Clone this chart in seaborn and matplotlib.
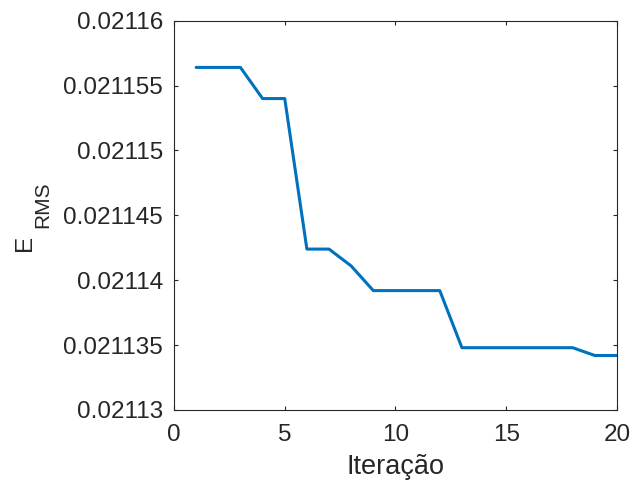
import matplotlib
matplotlib.use("Agg")
import matplotlib.pyplot as plt
import seaborn as sns
import pandas as pd

iterations = [1, 2, 3, 4, 5, 6, 7, 8, 9, 10, 11, 12, 13, 14, 15, 16, 17, 18, 19, 20]
erms = [0.0211564, 0.0211564, 0.0211564, 0.0211540, 0.0211540,
        0.0211424, 0.0211424, 0.0211411, 0.0211392, 0.0211392,
        0.0211392, 0.0211392, 0.0211348, 0.0211348, 0.0211348,
        0.0211348, 0.0211348, 0.0211348, 0.0211342, 0.0211342]
x_ticks = [0, 5, 10, 15, 20]
y_ticks = [0.02113, 0.021135, 0.02114, 0.021145, 0.02115, 0.021155, 0.02116]
y_tick_labels = ["0.02113", "0.021135", "0.02114", "0.021145", "0.02115", "0.021155", "0.02116"]

sns.set_theme(style="white")
plt.rcParams['font.family'] = ['Liberation Sans', 'DejaVu Sans']

df = pd.DataFrame({"Iteração": iterations, "E": erms})

fig = plt.figure(figsize=(6.35, 4.86), dpi=100)
ax = fig.add_axes([0.274, 0.1564, 0.6976, 0.8010])
sns.lineplot(data=df, x="Iteração", y="E", ax=ax, color="#0072BD", linewidth=2.2)

ax.set_xlim(0, 20)
ax.set_ylim(0.02113, 0.02116)
ax.set_xticks(x_ticks)
ax.set_xticklabels([str(t) for t in x_ticks])
ax.set_yticks(y_ticks)
ax.set_yticklabels(y_tick_labels)

axis_color = "#262626"
for s in ax.spines.values():
    s.set_visible(True)
    s.set_color(axis_color)
    s.set_linewidth(0.8)
ax.tick_params(direction="in", length=3, width=0.8, colors=axis_color,
               labelsize=17.5, top=True, right=True, bottom=True, left=True)
ax.tick_params(axis="x", pad=10)
ax.tick_params(axis="y", pad=8)
for lbl in ax.get_xticklabels() + ax.get_yticklabels():
    lbl.set_color(axis_color)

ax.set_xlabel("Iteração", fontsize=19.5, color=axis_color, labelpad=6)
ax.set_ylabel("")
# E_RMS label: main letter and subscript of similar size
fig.text(25 / 635, 1 - 243 / 486, "E", rotation=90, fontsize=17.5,
         color=axis_color, ha="center", va="center")
fig.text(42.5 / 635, 1 - 205 / 486, "RMS", rotation=90, fontsize=15,
         color=axis_color, ha="center", va="center")

fig.savefig("out.png", dpi=100)
